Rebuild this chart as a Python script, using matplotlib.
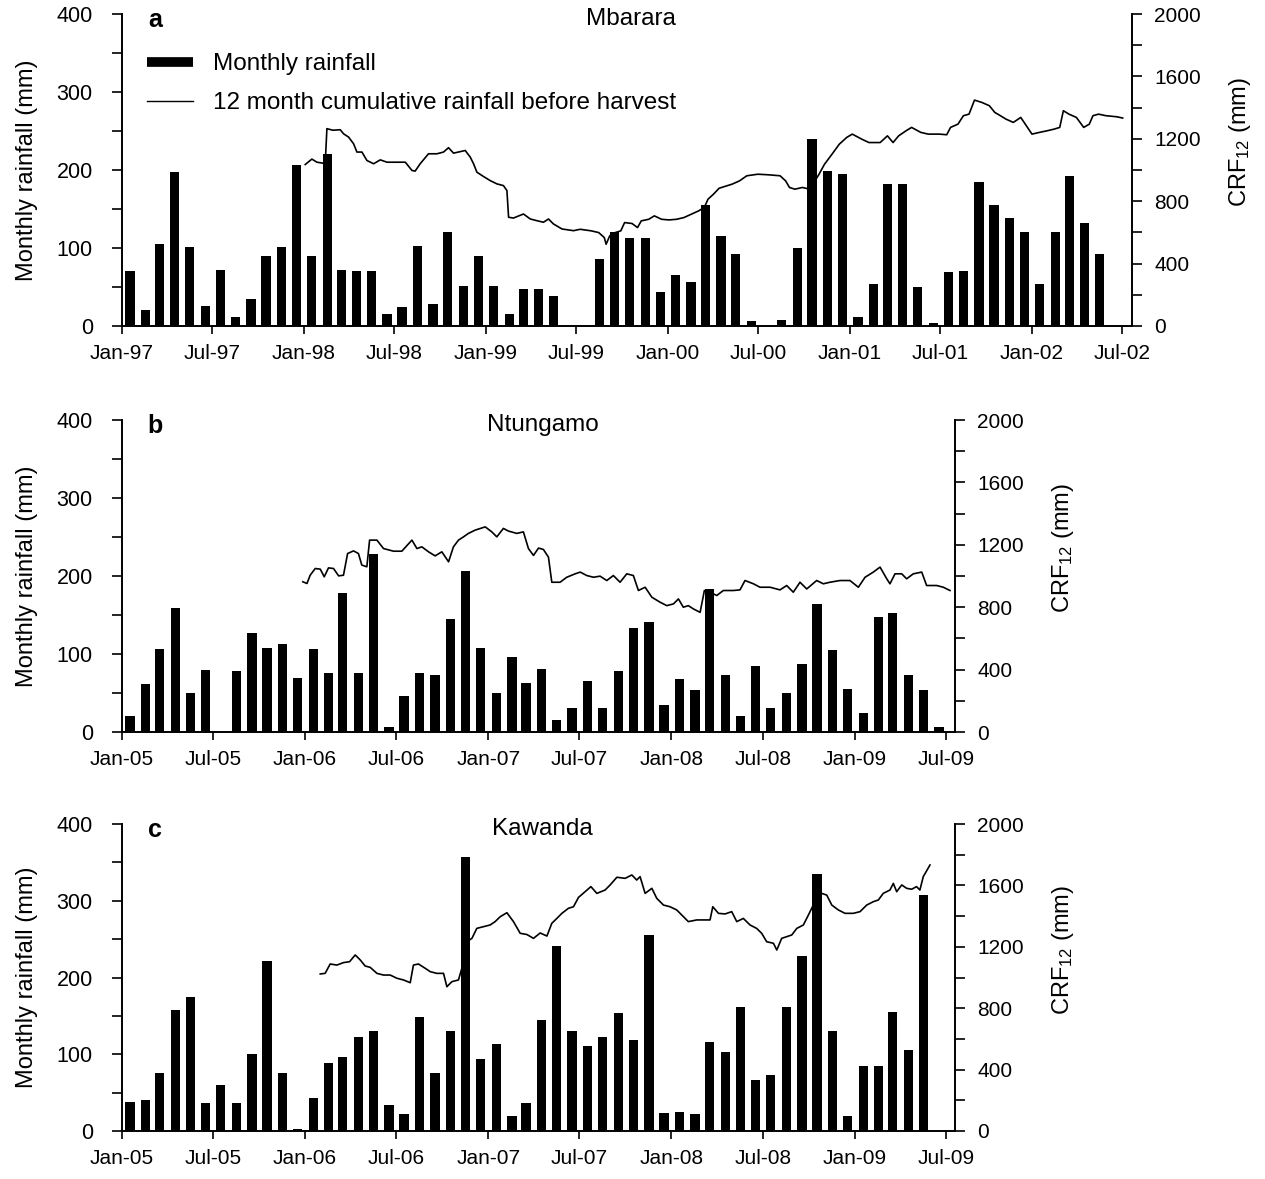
import matplotlib
matplotlib.use('Agg')
import matplotlib.pyplot as plt
import matplotlib.dates as mdates
from matplotlib.lines import Line2D
from matplotlib.ticker import MultipleLocator
import datetime as dt

plt.rcParams['font.family'] = ['Liberation Sans', 'DejaVu Sans']
plt.rcParams['mathtext.fontset'] = 'custom'
plt.rcParams['mathtext.rm'] = 'Liberation Sans'
plt.rcParams['mathtext.it'] = 'Liberation Sans:italic'

W, H = 1265, 1179

# ---------------- Panel a: Mbarara (monthly rainfall from Jan-1997) -------------
rain_a_start = (1997, 1)
rain_a = [70, 21, 105, 197, 101, 26, 72, 11, 34, 90, 101, 206,
          90, 221, 72, 70, 70, 15, 24, 103, 28, 120, 51, 90,
          51, 15, 48, 48, 38, 0, 0, 86, 121, 113, 113, 44,
          65, 56, 155, 115, 92, 6, 0, 8, 100, 240, 199, 195,
          11, 54, 182, 182, 50, 4, 69, 71, 184, 155, 138, 121,
          54, 121, 192, 132, 92]
# CRF12 line: months since Jan-1997 and value (mm)
crf_a_month = [12.08, 12.52, 12.85, 13.18, 13.40, 13.51, 13.9, 14.39, 14.61, 14.94,
               15.27, 15.49, 15.82, 16.15, 16.59, 17.03, 17.47, 17.90, 18.68, 19.12,
               19.33, 19.66, 20.21, 20.77, 21.20, 21.53, 21.86, 22.19, 22.63, 22.96,
               23.18, 23.40, 23.84, 24.28, 24.72, 25.15, 25.38, 25.49, 25.81, 26.47,
               26.92, 27.36, 27.79, 28.12, 28.45, 29.01, 29.77, 30.21, 30.94, 31.43,
               31.80, 31.92, 32.16, 32.53, 32.89, 33.14, 33.63, 33.99, 34.24, 34.73,
               35.10, 35.58, 36.07, 36.56, 37.05, 37.54, 38.02, 38.39, 38.64, 39.00,
               39.37, 39.86, 40.22, 40.71, 41.20, 41.93, 42.66, 43.39, 43.76, 44.01,
               44.37, 44.86, 45.35, 45.96, 46.32, 46.82, 47.30, 47.79, 48.15, 48.77,
               49.25, 49.99, 50.47, 50.84, 51.21, 51.69, 52.06, 52.67, 53.16, 53.90,
               54.38, 54.63, 55.12, 55.48, 55.85, 56.21, 56.70, 57.19, 57.55, 57.92,
               58.29, 58.77, 59.26, 59.63, 60.00, 60.49, 60.98, 61.46, 61.83, 62.07,
               62.44, 62.93, 63.41, 63.78, 64.02, 64.39, 64.88, 65.61, 65.98]
crf_a_mm = [1035, 1070, 1050, 1045, 1040, 1265, 1255, 1258, 1232, 1211,
            1168, 1115, 1115, 1061, 1040, 1065, 1050, 1050, 1050, 997,
            993, 1040, 1104, 1104, 1115, 1143, 1108, 1115, 1125, 1083,
            1040, 986, 958, 932, 911, 900, 868, 697, 692, 718,
            686, 675, 665, 686, 654, 622, 611, 620, 610, 599,
            567, 524, 578, 599, 610, 663, 657, 631, 674, 684,
            706, 684, 680, 684, 695, 717, 738, 759, 813, 845,
            883, 898, 909, 930, 963, 973, 969, 963, 930, 888,
            877, 888, 877, 973, 1037, 1102, 1166, 1209, 1230, 1198,
            1176, 1176, 1219, 1176, 1219, 1251, 1273, 1241, 1230, 1230,
            1226, 1273, 1294, 1348, 1358, 1448, 1433, 1412, 1369, 1348,
            1326, 1305, 1337, 1283, 1230, 1241, 1251, 1262, 1273, 1380,
            1358, 1337, 1273, 1294, 1348, 1358, 1348, 1341, 1333]

# ---------------- Panel b: Ntungamo (from Jan-2005) -------------
rain_b_start = (2005, 1)
rain_b = [21, 61, 107, 159, 50, 79, 0, 78, 127, 108, 113, 69,
          106, 76, 178, 76, 228, 6, 46, 76, 73, 145, 207, 108,
          50, 96, 63, 81, 16, 31, 66, 31, 78, 133, 141, 34,
          68, 54, 183, 73, 20, 85, 31, 50, 87, 164, 105, 55,
          24, 148, 153, 73, 54, 6]
crf_b_month = [11.84, 12.11, 12.32, 12.65, 12.98, 13.24, 13.52, 13.85, 14.18, 14.50,
               14.77, 15.16, 15.48, 15.70, 16.03, 16.21, 16.69, 17.12, 17.78, 18.32,
               18.98, 19.31, 19.63, 20.07, 20.50, 20.94, 21.38, 21.70, 22.03, 22.36,
               22.68, 23.12, 23.78, 24.21, 24.54, 24.97, 25.30, 25.85, 26.28, 26.61,
               26.94, 27.27, 27.59, 27.92, 28.14, 28.68, 29.12, 29.67, 30.00, 30.43,
               30.87, 31.30, 31.74, 32.17, 32.61, 33.05, 33.48, 33.81, 34.25, 34.69,
               35.23, 35.67, 36.10, 36.43, 36.75, 37.08, 37.41, 37.85, 38.13, 38.50,
               38.94, 39.37, 40.03, 40.46, 40.79, 41.34, 41.77, 42.43, 43.08, 43.52,
               43.95, 44.39, 44.83, 45.48, 45.92, 46.35, 47.01, 47.66, 48.21, 48.65,
               49.19, 49.63, 50.07, 50.28, 50.61, 51.05, 51.37, 51.81, 52.36, 52.68,
               53.34, 53.77, 54.21]
crf_b_mm = [963, 952, 1005, 1048, 1044, 995, 1052, 1048, 1001, 1005,
            1144, 1161, 1144, 1070, 1059, 1230, 1230, 1176, 1159, 1159,
            1230, 1176, 1187, 1155, 1129, 1155, 1091, 1187, 1230, 1251,
            1273, 1294, 1315, 1283, 1251, 1305, 1288, 1273, 1283, 1176,
            1132, 1179, 1170, 1121, 960, 960, 992, 1014, 1025, 1003,
            992, 999, 971, 1003, 960, 1014, 1003, 907, 928, 864,
            832, 810, 821, 853, 800, 810, 789, 767, 907, 896,
            875, 907, 907, 911, 971, 950, 928, 928, 911, 939,
            896, 960, 917, 971, 950, 960, 971, 971, 928, 992,
            1025, 1057, 982, 950, 1014, 1014, 982, 1014, 1025, 939,
            939, 928, 907]

# ---------------- Panel c: Kawanda (from Jan-2005) -------------
rain_c_start = (2005, 1)
rain_c = [38, 40, 76, 158, 174, 36, 60, 36, 100, 221, 76, 3,
          43, 89, 96, 122, 130, 34, 22, 149, 76, 130, 357, 94,
          113, 20, 36, 145, 241, 130, 111, 122, 154, 118, 256, 24,
          25, 22, 116, 103, 162, 67, 73, 162, 228, 335, 130, 20,
          85, 85, 155, 106, 307]
crf_c_month = [12.98, 13.30, 13.63, 14.07, 14.50, 14.90, 15.27, 15.60, 15.92, 16.25,
               16.69, 17.12, 17.56, 18.00, 18.43, 18.87, 19.08, 19.41, 19.85, 20.18,
               20.61, 21.05, 21.27, 21.60, 22.03, 22.25, 22.58, 22.91, 23.23, 23.66,
               24.10, 24.43, 24.76, 25.20, 25.63, 26.07, 26.51, 26.94, 27.38, 27.82,
               28.14, 28.47, 28.80, 29.23, 29.56, 29.89, 30.32, 30.70, 31.09, 31.63,
               31.96, 32.40, 32.94, 33.38, 33.70, 33.92, 34.25, 34.69, 35.01, 35.45,
               35.88, 36.32, 36.76, 37.08, 37.63, 38.18, 38.50, 38.68, 39.05, 39.48,
               39.92, 40.25, 40.68, 41.12, 41.55, 41.88, 42.21, 42.65, 42.87, 43.19,
               43.52, 43.85, 44.18, 44.61, 44.94, 45.26, 45.59, 45.81, 46.14, 46.47,
               46.90, 47.34, 47.88, 48.32, 48.76, 49.19, 49.52, 49.84, 50.28, 50.50,
               50.72, 51.05, 51.37, 51.70, 52.02, 52.24, 52.46, 52.90]
crf_c_mm = [1023, 1027, 1088, 1081, 1097, 1103, 1147, 1114, 1075, 1066,
            1027, 1016, 1016, 995, 984, 966, 1081, 1088, 1060, 1038,
            1027, 1027, 940, 973, 984, 1060, 1233, 1255, 1320, 1331,
            1342, 1364, 1396, 1422, 1364, 1288, 1280, 1255, 1290, 1270,
            1353, 1385, 1418, 1451, 1461, 1522, 1559, 1592, 1548, 1570,
            1603, 1653, 1646, 1668, 1635, 1657, 1548, 1581, 1516, 1472,
            1461, 1440, 1396, 1364, 1375, 1375, 1375, 1461, 1418, 1414,
            1429, 1364, 1385, 1342, 1320, 1288, 1233, 1223, 1179, 1255,
            1266, 1277, 1320, 1342, 1407, 1472, 1505, 1548, 1537, 1472,
            1440, 1418, 1418, 1429, 1472, 1494, 1505, 1548, 1570, 1613,
            1559, 1603, 1581, 1575, 1592, 1570, 1657, 1733]

titles = ['Mbarara', 'Ntungamo', 'Kawanda']
letters = ['a', 'b', 'c']
legend_labels = ['Monthly rainfall', '12 month cumulative rainfall before harvest']


def bar_dates(start, n, offset_days=16):
    y, m = start
    out = []
    for i in range(n):
        yy = y + (m - 1 + i) // 12
        mm = (m - 1 + i) % 12 + 1
        out.append(dt.datetime(yy, mm, 1) + dt.timedelta(days=offset_days))
    return out


def month_offsets_to_dates(start, months):
    base = dt.datetime(start[0], start[1], 1)
    return [base + dt.timedelta(days=m * 30.4375) for m in months]


fig = plt.figure(figsize=(W / 100, H / 100), dpi=100)


def add_ax(l, t, r, b):
    return fig.add_axes([l / W, 1 - b / H, (r - l) / W, (b - t) / H])


FS = 15
panels = [
    dict(box=(122, 14, 1132, 326), start=rain_a_start, rain=rain_a, cm=crf_a_month, cv=crf_a_mm,
         xlim=(dt.datetime(1997, 1, 1), dt.datetime(2002, 7, 21)), title=titles[0], letter=letters[0]),
    dict(box=(122, 420, 955, 732), start=rain_b_start, rain=rain_b, cm=crf_b_month, cv=crf_b_mm,
         xlim=(dt.datetime(2005, 1, 1), dt.datetime(2009, 7, 19)), title=titles[1], letter=letters[1]),
    dict(box=(122, 824, 955, 1131), start=rain_c_start, rain=rain_c, cm=crf_c_month, cv=crf_c_mm,
         xlim=(dt.datetime(2005, 1, 1), dt.datetime(2009, 7, 19)), title=titles[2], letter=letters[2]),
]

for i, p in enumerate(panels):
    l, t, r, b = p['box']
    ax = add_ax(l, t, r, b)
    ax2 = ax.twinx()
    ax.bar(bar_dates(p['start'], len(p['rain'])), p['rain'], width=18.5, color='black', zorder=2)
    ax2.plot(month_offsets_to_dates(p['start'], p['cm']), p['cv'], color='black', lw=1.2)

    ax.set_ylim(0, 400)
    ax2.set_ylim(0, 2000)
    ax.set_xlim(*p['xlim'])

    for s in ['top', 'right']:
        ax.spines[s].set_visible(False)
    for s in ['top', 'left', 'bottom']:
        ax2.spines[s].set_visible(False)
    for s in ['left', 'bottom']:
        ax.spines[s].set_linewidth(1.4)
    ax2.spines['right'].set_linewidth(1.4)

    ax.yaxis.set_major_locator(MultipleLocator(100))
    ax.yaxis.set_minor_locator(MultipleLocator(50))
    ax2.yaxis.set_major_locator(MultipleLocator(400))
    ax2.yaxis.set_minor_locator(MultipleLocator(200))
    ax.xaxis.set_major_locator(mdates.MonthLocator(bymonth=[1, 7]))
    ax.xaxis.set_major_formatter(mdates.DateFormatter('%b-%y'))
    ax.xaxis.set_minor_locator(plt.NullLocator())

    ax.tick_params(axis='y', which='both', direction='out', length=7, width=1.2,
                   labelsize=FS + 0.5, pad=14, colors='black')
    ax.tick_params(axis='x', which='both', direction='out', length=6, width=1.2,
                   labelsize=FS, pad=7)
    ax2.tick_params(axis='y', which='both', direction='out', length=7, width=1.2,
                    labelsize=FS, pad=9)

    # labels
    yc = (t + b) / 2
    fig.text(27 / W, 1 - yc / H, 'Monthly rainfall (mm)', rotation=90, ha='center', va='center',
             fontsize=17)
    xr = r + 108
    fig.text(xr / W, 1 - (yc - 28) / H, 'CRF$_{12}$ (mm)', rotation=90, ha='center', va='center',
             fontsize=17)
    fig.text(155 / W, 1 - (t + 6) / H, p['letter'], ha='center', va='center', fontsize=18,
             fontweight='bold')
    fig.text(((l + r) / 2 + 4) / W, 1 - (t + 5) / H, p['title'], ha='center', va='center',
             fontsize=17.5)

    if i == 0:
        handles = [Line2D([0], [0], color='black', lw=7, solid_capstyle='butt'),
                   Line2D([0], [0], color='black', lw=1)]
        ax2.legend(handles, legend_labels, loc='upper left',
                   bbox_to_anchor=((147 - l) / (r - l), (b - 53) / (b - t)),
                   frameon=False, fontsize=17.5, handlelength=1.9, handletextpad=0.8,
                   labelspacing=0.7, borderaxespad=0, borderpad=0)

fig.savefig('out.png', dpi=100)
